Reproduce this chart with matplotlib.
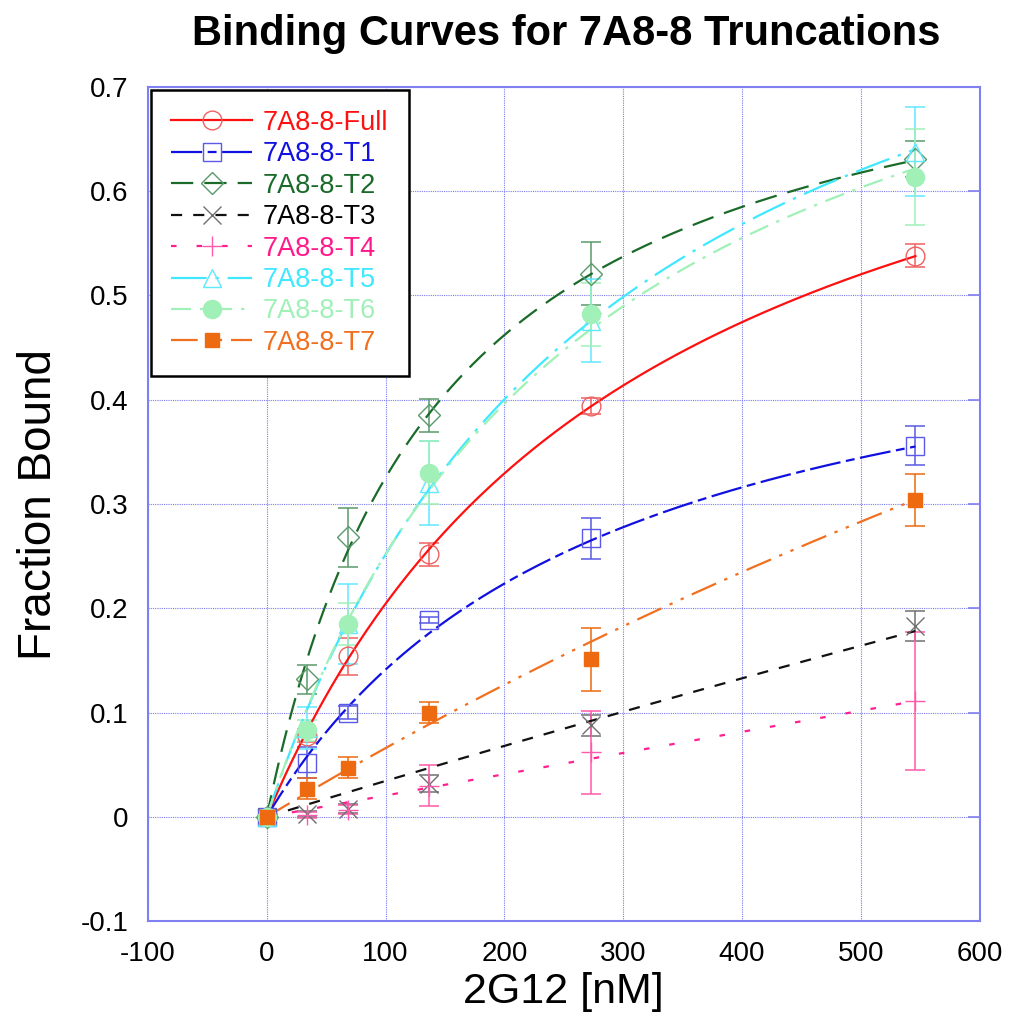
import numpy as np
import matplotlib
matplotlib.use("Agg")
import matplotlib.pyplot as plt
from matplotlib.lines import Line2D

plt.rcParams['font.family'] = ['Liberation Sans', 'DejaVu Sans']

# ---------------- data ----------------
conc = [0, 34.1, 68.3, 136.5, 273, 546]
names = ["7A8-8-Full", "7A8-8-T1", "7A8-8-T2", "7A8-8-T3",
         "7A8-8-T4", "7A8-8-T5", "7A8-8-T6", "7A8-8-T7"]

y_full = [0, 0.078, 0.154, 0.252, 0.394, 0.538]
y_t1 = [0, 0.052, 0.100, 0.189, 0.267, 0.356]
y_t2 = [0, 0.132, 0.268, 0.385, 0.521, 0.631]
y_t3 = [0, 0.003, 0.008, 0.032, 0.088, 0.183]
y_t4 = [0, 0.002, 0.007, 0.030, 0.062, 0.111]
y_t5 = [0, 0.085, 0.185, 0.320, 0.476, 0.638]
y_t6 = [0, 0.083, 0.185, 0.330, 0.482, 0.614]
y_t7 = [0, 0.027, 0.047, 0.100, 0.151, 0.304]

e_full = [0, 0.006, 0.018, 0.011, 0.008, 0.011]
e_t1 = [0, 0.015, 0.006, 0.003, 0.020, 0.019]
e_t2 = [0, 0.014, 0.028, 0.016, 0.030, 0.017]
e_t3 = [0, 0.003, 0.004, 0.008, 0.010, 0.014]
e_t4 = [0, 0.003, 0.004, 0.020, 0.040, 0.066]
e_t5 = [0, 0.020, 0.038, 0.040, 0.040, 0.043]
e_t6 = [0, 0.010, 0.020, 0.030, 0.030, 0.046]
e_t7 = [0, 0.010, 0.010, 0.010, 0.030, 0.025]

# hyperbolic fit parameters y = Bmax * x / (Kd + x)
bmax = [0.848, 0.538, 0.797, 2.79, 11.3, 0.979, 0.927, 1.60]
kd = [315, 281, 145, 8000, 55000, 289, 268, 2326]

# ---------------- styles ----------------
line_colors = ["#ff1010", "#1010e0", "#1a6b2a", "#111111",
               "#ff2090", "#40e8ff", "#a0f0b8", "#f07020"]
mark_colors = ["#f06060", "#5a5ae6", "#5a9a6a", "#707070",
               "#ff5aaa", "#60e8ff", "#a0f0b8", "#ee6a10"]
text_colors = ["#ff1010", "#1010e0", "#1a6b2a", "#000000",
               "#ff1a8c", "#40e8ff", "#a0f0b8", "#f07020"]
markers = ["o", "s", "D", "x", "+", "^", "o", "s"]
filled = [False, False, False, False, False, False, True, True]
msizes = [13.5, 13.5, 11, 13, 14, 13, 13, 10.5]
dashes = [None, (14, 2.5, 4, 2.5), (10, 5), (5, 5), (2.5, 9),
          (16, 4, 1.5, 4), (9, 4, 1.5, 4), (12, 4, 1.5, 4, 1.5, 4)]

ys = [y_full, y_t1, y_t2, y_t3, y_t4, y_t5, y_t6, y_t7]
es = [e_full, e_t1, e_t2, e_t3, e_t4, e_t5, e_t6, e_t7]

fig = plt.figure(figsize=(10.13, 10.35), dpi=100)
ax = fig.add_axes([0.146, 0.110, 0.821, 0.806])

xs = np.linspace(0, conc[-1], 300)
handles = []
for i in range(len(names)):
    col = line_colors[i]
    mc = mark_colors[i]
    ax.errorbar(conc, ys[i], yerr=es[i], fmt='none', ecolor=mc, elinewidth=1.1,
                capsize=7, capthick=1.1, zorder=3)
    fit = bmax[i] * xs / (kd[i] + xs)
    ln, = ax.plot(xs, fit, color=col, lw=1.6, zorder=4)
    if dashes[i] is not None:
        ln.set_dashes(dashes[i])
    mfc = mc if filled[i] else 'none'
    ax.plot(conc, ys[i], linestyle='none', marker=markers[i], ms=msizes[i],
            mfc=mfc, mec=mc, mew=1.0, zorder=5)
    h = Line2D([0], [0], color=col, lw=1.6, marker=markers[i], ms=msizes[i],
               mfc=mfc, mec=mc, mew=1.0)
    if dashes[i] is not None:
        h.set_dashes(dashes[i])
    handles.append(h)

ax.set_xlim(-100, 600)
ax.set_ylim(-0.1, 0.7)
ax.set_xticks(np.arange(-100, 601, 100))
ax.set_yticks(np.arange(-0.1, 0.71, 0.1))
ax.set_xticklabels(["-100", "0", "100", "200", "300", "400", "500", "600"])
ax.set_yticklabels(["-0.1", "0", "0.1", "0.2", "0.3", "0.4", "0.5", "0.6", "0.7"])
ax.tick_params(axis='x', labelsize=20, length=0, pad=14)
ax.tick_params(axis='y', labelsize=20, pad=14, left=False, right=True,
               direction='in', length=9, width=1.2, color="#8080f0")
ax.grid(True, color="#7b7bf0", linestyle=(0, (1, 1)), linewidth=0.8)
for s in ax.spines.values():
    s.set_color("#8080f0")
    s.set_linewidth(1.5)

ax.set_xlabel("2G12 [nM]", fontsize=31, labelpad=4)
ax.set_ylabel("Fraction Bound", fontsize=33, labelpad=14)
fig.text(0.559, 0.967, "Binding Curves for 7A8-8 Truncations", fontsize=30,
         fontweight='bold', ha='center', va='center')

leg = ax.legend(handles, names, loc='upper left', bbox_to_anchor=(0.0, 1.0),
                borderaxespad=0.1,
                fontsize=19.5, frameon=True, fancybox=False, handlelength=3.0,
                borderpad=0.75, labelspacing=0.2, handletextpad=0.4,
                framealpha=1)
leg.get_frame().set_edgecolor('black')
leg.get_frame().set_linewidth(1.8)
for t, c in zip(leg.get_texts(), text_colors):
    t.set_color(c)
leg.set_zorder(10)

fig.savefig("out.png", dpi=100)
